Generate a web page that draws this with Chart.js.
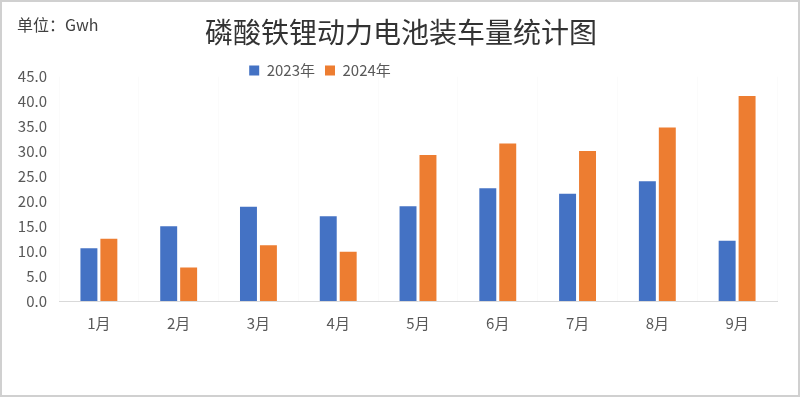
<!DOCTYPE html>
<html lang="zh-CN">
<head>
    <meta charset="UTF-8">
    <title>磷酸铁锂动力电池装车量统计图</title>
    <script src="https://cdn.jsdelivr.net/npm/chart.js"></script>
    <style>
        body {
            margin: 0;
            background-color: #ffffff;
        }

        #wrap {
            width: 800px;
            height: 397px;
            position: relative;
        }
    </style>
</head>
<body>
    <div id="wrap">
        <canvas id="myChart"></canvas>
    </div>

    <script>
        // 数据
        const months = ['1月', '2月', '3月', '4月', '5月', '6月', '7月', '8月', '9月'];
        const seriesNames = ['2023年', '2024年'];
        const values2023 = [10.6, 15.0, 18.9, 17.0, 19.0, 22.6, 21.5, 24.0, 12.1];
        const values2024 = [12.5, 6.7, 11.2, 9.9, 29.3, 31.6, 30.1, 34.8, 41.1];
        const yMax = 45;
        const yStep = 5;
        const titleText = '磷酸铁锂动力电池装车量统计图';
        const unitText = '单位：Gwh';

        const fontFamily = "'Noto Sans CJK SC', 'Noto Sans', sans-serif";
        const textColor = '#595959';

        // 背景、边框、单位
        const decorPlugin = {
            id: 'decor',
            beforeDraw(chart) {
                const ctx = chart.ctx;
                ctx.save();
                ctx.fillStyle = '#ffffff';
                ctx.fillRect(0, 0, chart.width, chart.height);
                ctx.restore();
            },
            afterDraw(chart) {
                const ctx = chart.ctx;
                ctx.save();
                ctx.fillStyle = '#404040';
                ctx.font = '16px ' + fontFamily;
                ctx.textBaseline = 'middle';
                ctx.fillText(unitText, 17, 25);
                ctx.strokeStyle = '#d0d0d0';
                ctx.lineWidth = 2;
                ctx.strokeRect(1, 1, chart.width - 2, chart.height - 2);
                ctx.restore();
            }
        };

        // 移动标题和图例位置
        const placePlugin = {
            id: 'place',
            afterLayout(chart) {
                const t = chart.titleBlock;
                if (t) {
                    const s = 401 - (t.left + t.right) / 2;
                    t.left += s;
                    t.right += s;
                }
                const l = chart.legend;
                if (l) {
                    const s = 320 - (l.left + l.right) / 2;
                    l.left += s;
                    l.right += s;
                    const h = l.bottom - l.top;
                    l.top = 53;
                    l.bottom = 53 + h;
                }
            }
        };

        const ctx = document.getElementById('myChart').getContext('2d');
        new Chart(ctx, {
            type: 'bar',
            data: {
                labels: months,
                datasets: [{
                    label: seriesNames[0],
                    data: values2023,
                    backgroundColor: '#4472C4',
                    categoryPercentage: 0.5,
                    barPercentage: 0.85
                }, {
                    label: seriesNames[1],
                    data: values2024,
                    backgroundColor: '#ED7D31',
                    categoryPercentage: 0.5,
                    barPercentage: 0.85
                }]
            },
            options: {
                responsive: true,
                maintainAspectRatio: false,
                animation: false,
                devicePixelRatio: 1,
                layout: {
                    padding: { left: 0, right: 23, top: 0, bottom: 0 }
                },
                plugins: {
                    title: {
                        display: true,
                        text: titleText,
                        color: '#333333',
                        font: { family: fontFamily, size: 28, weight: 'normal', lineHeight: 1.2 },
                        padding: { top: 16, bottom: -8 }
                    },
                    legend: {
                        display: true,
                        position: 'top',
                        labels: {
                            boxWidth: 10,
                            boxHeight: 10,
                            padding: 10,
                            color: textColor,
                            font: { family: fontFamily, size: 15 }
                        }
                    },
                    tooltip: { enabled: false }
                },
                scales: {
                    x: {
                        grid: {
                            display: true,
                            offset: true,
                            drawTicks: false,
                            color: 'rgba(0,0,0,0.015)'
                        },
                        border: { display: true, color: '#d9d9d9', width: 1 },
                        ticks: {
                            color: textColor,
                            font: { family: fontFamily, size: 15 },
                            padding: 13
                        },
                        afterFit(scale) {
                            scale.height = 96;
                        }
                    },
                    y: {
                        min: 0,
                        max: yMax,
                        grid: { display: false, drawTicks: false },
                        border: { display: false },
                        ticks: {
                            stepSize: yStep,
                            color: textColor,
                            font: { family: fontFamily, size: 15 },
                            padding: 12,
                            callback: v => v.toFixed(1)
                        },
                        afterFit(scale) {
                            scale.width = 59;
                        }
                    }
                }
            },
            plugins: [decorPlugin, placePlugin]
        });
    </script>
</body>
</html>
